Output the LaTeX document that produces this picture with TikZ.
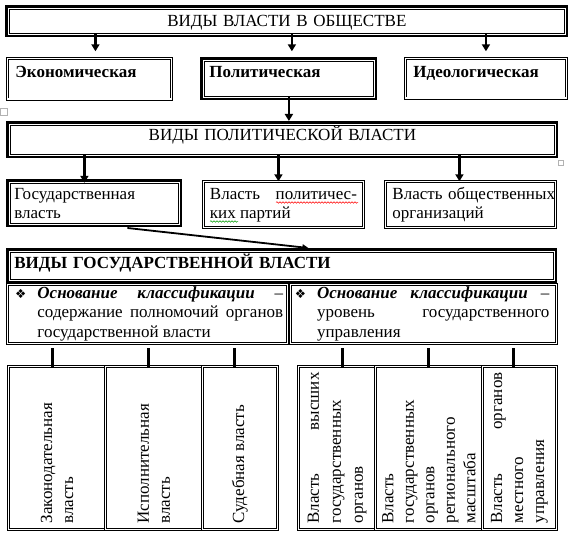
\documentclass[tikz,border=0pt]{standalone}
\usepackage{fontspec}
\setmainfont{Liberation Serif}
\newfontfamily\symfont{DejaVu Sans}
\usepackage{graphicx}
\usetikzlibrary{arrows.meta}
\usetikzlibrary{positioning}
\usetikzlibrary{decorations.pathmorphing}

\hyphenpenalty=10000
\exhyphenpenalty=10000
\newcommand{\bul}{\llap{{\symfont\fontsize{12.5}{12.5}\selectfont ❖}\hspace{11pt}}}

\begin{document}
\begin{tikzpicture}[
	x=1pt, y=-1pt,
	every node/.style = {font=\fontsize{17}{19}\selectfont, inner sep=0pt, anchor=north west},
	thk/.style = {rectangle, fill=white, draw, line width=0.8pt, preaction={draw, line width=7.6pt}, preaction={draw=white, line width=3.2pt}},
	dbl/.style = {rectangle, fill=white, draw, line width=0.9pt, double, double distance=1.3pt},
	cell/.style = {dbl, minimum height=162.4pt},
	arr/.style = {-{Triangle[length=7pt, width=8pt]}, line width=2.4pt},
	arrs/.style = {-{Triangle[length=6pt, width=6pt]}, line width=1.8pt},
	ln/.style = {line width=3pt},
	wavy/.style = {line width=0.5pt, decorate, decoration={snake, amplitude=0.8pt, segment length=3pt}}
	]
	\useasboundingbox (0,0) rectangle (571,535);
	
	% === === Nodes === ===
	\node[thk, text width=555.4pt, align=center, text height=17pt, text depth=7.4pt]	(top)	at	(8.8, 8.8)	{ВИДЫ ВЛАСТИ В ОБЩЕСТВЕ};
	
	\node[dbl, inner xsep=7.7pt, text width=148pt, align=left, text height=18.7pt, text depth=21.7pt, font=\fontsize{17}{19}\selectfont\bfseries]	(eko)	at	(7.3, 58.3)	{Экономическая};
	\node[thk, inner xsep=5.2pt, text width=159pt, align=left, text height=16.2pt, text depth=19.2pt, font=\fontsize{17}{19}\selectfont\bfseries]	(pol)	at	(203.8, 60.8)	{Политическая};
	\node[dbl, inner xsep=7.7pt, text width=145pt, align=left, text height=18.4pt, text depth=21pt, font=\fontsize{17}{19}\selectfont\bfseries]	(ideo)	at	(405.3, 58.3)	{Идеологическая};
	
	\node[thk, text width=544.4pt, align=center, text height=15.2pt, text depth=14.2pt]	(vpol)	at	(9.8, 124.8)	{ВИДЫ ПОЛИТИЧЕСКОЙ ВЛАСТИ};
	
	\node[thk, inner xsep=4.2pt, text width=160pt, align=left, text height=16.2pt, text depth=24.2pt]	(gos)	at	(9.8, 182.8)	{Государственная\\власть};
	\node[dbl, inner xsep=6.2pt, text width=147pt, align=justify, text height=17.7pt, text depth=27.7pt]	(part)	at	(203.3, 181.3)	{Власть политичес-\linebreak ких партий};
	\node[dbl, inner xsep=6.7pt, text width=156pt, align=left, text height=18pt, text depth=27.4pt]	(obsh)	at	(385.3, 181.3)	{Власть~общественных\\организаций};
	
	\node[thk, inner xsep=4.2pt, text width=535pt, align=left, text height=16.2pt, text depth=11.2pt, font=\fontsize{17}{19}\selectfont\bfseries]	(vgos)	at	(9.8, 251.8)	{ВИДЫ ГОСУДАРСТВЕННОЙ ВЛАСТИ};
	
	\node[dbl, inner xsep=4pt, text height=13.7pt, text depth=44.7pt]	(osn1)	at	(7.3, 284.3)
		{\parbox[t]{271.4pt}{\baselineskip=19.5pt\hangindent=25.7pt\hangafter=0\leavevmode\bul\textbf{\textit{Основание~классификации}}~–\linebreak содержание~полномочий~органов\linebreak государственной власти}};
	\node[dbl, inner xsep=6.7pt, text height=13.7pt, text depth=44.7pt]	(osn2)	at	(290.3, 284.3)
		{\parbox[t]{252pt}{\baselineskip=19.5pt\hangindent=19.7pt\hangafter=0\leavevmode\bul\textbf{\textit{Основание~классификации}}~–\linebreak уровень~государственного\linebreak управления}};
	
	\node[cell, minimum width=96.7pt]	(zak)	at	(8.3, 366.3)	{\rotatebox{90}{\parbox{151pt}{\baselineskip=21pt Законодательная\\власть}}};
	\node[cell, minimum width=97pt]		(isp)	at	(105, 366.3)	{\rotatebox{90}{\parbox{151pt}{\baselineskip=21pt Исполнительная\\власть}}};
	\node[cell, minimum width=74.7pt]	(sud)	at	(202, 366.3)	{\rotatebox{90}{\parbox{151pt}{\baselineskip=21pt Судебная власть}}};
	
	\node[cell, minimum width=76.7pt]	(vys)	at	(298.3, 366.3)	{\rotatebox{90}{\parbox{151pt}{\baselineskip=22pt Власть\hfill высших\\государственных\\органов}}};
	\node[cell, minimum width=107pt]	(reg)	at	(375, 366.3)	{\rotatebox{90}{\parbox{151pt}{\baselineskip=20.5pt Власть\\государственных\\органов\\регионального\\масштаба}}};
	\node[cell, minimum width=73.7pt]	(mest)	at	(482, 366.3)	{\rotatebox{90}{\parbox{151pt}{\baselineskip=21pt Власть\hfill органов\\местного\\управления}}};
	
	% spelling marks and editor marks
	\draw[wavy, red]				(part.north west) ++(72.7,21.2)	--	++(82,0);
	\draw[wavy, green!60!black]	(part.north west) ++(6.7,40.2)	--	++(28,0);
	\draw[gray!60, line width=0.6pt] (0.5, 108.5) rectangle (7.5, 115.5);
	\draw[gray!60, line width=0.6pt] (558.5, 160.5) rectangle (563.5, 165.5);
	
	% === === Lines === ===
	\draw[arr]	(top.south -| eko.north) ++(6,0)	--	([xshift=6pt, yshift=7pt]eko.north);
	\draw[arr]	(top.south -| pol.north) ++(3,0)	--	([xshift=3pt, yshift=9.5pt]pol.north);
	\draw[arr]	(top.south -| ideo.north)			--	([yshift=7pt]ideo.north);
	
	\draw[arr, shorten >=3.8pt]	(pol.south)		--	(pol.south |- vpol.north);
	
	\draw[arr]	(vpol.south -| gos.north) ++(-10,0)		--	([xshift=-10pt]gos.north);
	\draw[arr]	(vpol.south -| part.north) ++(-5,0)		--	([xshift=-5pt]part.north);
	\draw[arr]	(vpol.south -| obsh.north) ++(-11,0)	--	([xshift=-11pt]obsh.north);
	
	\draw[arrs]	([xshift=33pt, yshift=-4pt]gos.south)	--	([xshift=26.5pt, yshift=3.8pt]vgos.north);
	
	\draw[ln]	(osn1.south -| zak.north) ++(-4.6,4.5)	--	([xshift=-4.6pt, yshift=-1pt]zak.north);
	\draw[ln]	(osn1.south -| isp.north) ++(-5.5,4.5)	--	([xshift=-5.5pt, yshift=-1pt]isp.north);
	\draw[ln]	(osn1.south -| sud.north) ++(-5.4,4.5)	--	([xshift=-5.4pt, yshift=-1pt]sud.north);
	
	\draw[ln]	(osn2.south -| vys.north) ++(5.4,4.5)	--	([xshift=5.4pt, yshift=-1pt]vys.north);
	\draw[ln]	(osn2.south -| reg.north) ++(-0.5,4.5)	--	([xshift=-0.5pt, yshift=-1pt]reg.north);
	\draw[ln]	(osn2.south -| mest.north) ++(-5.9,4.5)	--	([xshift=-5.9pt, yshift=-1pt]mest.north);
	
\end{tikzpicture}
\end{document}
